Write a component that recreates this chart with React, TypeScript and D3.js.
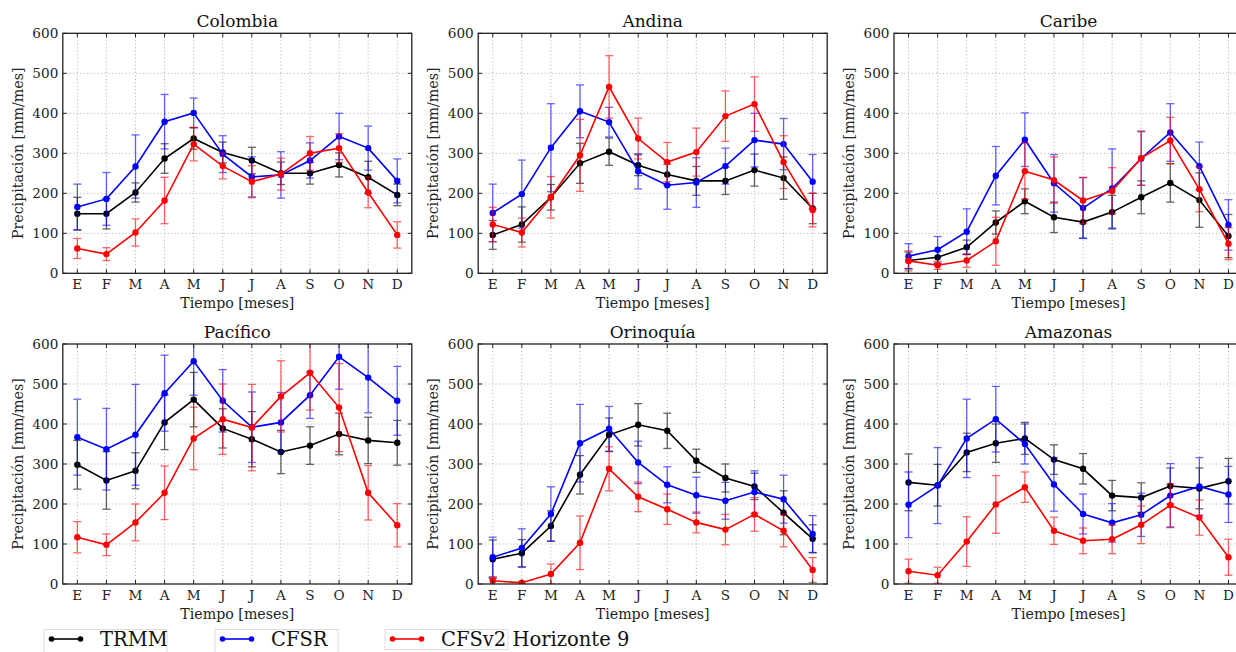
import React from "react";
import * as d3 from "d3";

const months = ["E", "F", "M", "A", "M", "J", "J", "A", "S", "O", "N", "D"];
const yTicks = [0, 100, 200, 300, 400, 500, 600];
const regions = ["Colombia", "Andina", "Caribe", "Pacífico", "Orinoquía", "Amazonas"];
const seriesNames = ["TRMM", "CFSR", "CFSv2 Horizonte 9"];
const seriesColors = ["#000000", "#0000ff", "#ff0000"];

// Colombia
const colombiaTRMM = [149, 149, 202, 287, 337, 302, 282, 250, 250, 271, 240, 196];
const colombiaTRMMErr = [41, 38, 24, 37, 27, 26, 33, 28, 27, 30, 40, 27];
const colombiaCFSR = [166, 186, 267, 379, 401, 298, 241, 246, 282, 342, 313, 231];
const colombiaCFSRErr = [57, 66, 79, 68, 37, 46, 50, 58, 44, 58, 55, 55];
const colombiaCFSv2 = [62, 48, 102, 182, 323, 268, 229, 248, 300, 313, 202, 96];
const colombiaCFSv2Err = [25, 16, 34, 58, 42, 32, 40, 40, 42, 36, 38, 33];

// Andina
const andinaTRMM = [96, 122, 190, 275, 304, 270, 247, 231, 231, 258, 238, 162];
const andinaTRMMErr = [36, 44, 32, 50, 34, 26, 26, 36, 34, 40, 53, 38];
const andinaCFSR = [151, 198, 314, 405, 378, 255, 220, 227, 268, 333, 323, 229];
const andinaCFSRErr = [72, 85, 110, 66, 37, 44, 60, 62, 45, 67, 64, 68];
const andinaCFSv2 = [122, 102, 190, 295, 466, 337, 278, 303, 393, 423, 278, 158];
const andinaCFSv2Err = [43, 36, 52, 90, 78, 51, 49, 60, 63, 68, 66, 42];

// Caribe
const caribeTRMM = [32, 40, 65, 127, 180, 140, 128, 153, 190, 226, 183, 93];
const caribeTRMMErr = [21, 16, 18, 29, 31, 38, 40, 42, 41, 48, 68, 54];
const caribeCFSR = [43, 59, 104, 244, 334, 225, 163, 212, 287, 352, 268, 121];
const caribeCFSRErr = [31, 33, 57, 73, 67, 72, 76, 99, 67, 72, 60, 63];
const caribeCFSv2 = [31, 20, 32, 80, 255, 233, 182, 206, 288, 332, 210, 74];
const caribeCFSv2Err = [25, 10, 17, 60, 70, 58, 58, 58, 68, 58, 56, 40];

// Pacífico
const pacificoTRMM = [298, 259, 283, 404, 461, 389, 362, 330, 346, 375, 359, 353];
const pacificoTRMMErr = [61, 72, 45, 68, 68, 49, 69, 54, 47, 52, 58, 56];
const pacificoCFSR = [367, 337, 373, 477, 557, 458, 392, 404, 472, 568, 516, 458];
const pacificoCFSRErr = [95, 102, 126, 95, 85, 78, 88, 75, 58, 81, 88, 86];
const pacificoCFSv2 = [117, 98, 154, 228, 364, 412, 391, 469, 528, 441, 228, 147];
const pacificoCFSv2Err = [39, 27, 46, 67, 78, 88, 108, 89, 93, 110, 68, 54];

// Orinoquía
const orinoquiaTRMM = [62, 77, 145, 273, 373, 398, 383, 308, 265, 244, 178, 113];
const orinoquiaTRMMErr = [48, 34, 38, 48, 42, 53, 44, 29, 35, 33, 55, 35];
const orinoquiaCFSR = [67, 90, 175, 352, 388, 304, 248, 222, 208, 230, 212, 125];
const orinoquiaCFSRErr = [50, 48, 68, 97, 56, 53, 45, 45, 46, 53, 60, 46];
const orinoquiaCFSv2 = [8, 3, 25, 103, 288, 218, 187, 154, 136, 174, 133, 35];
const orinoquiaCFSv2Err = [10, 3, 25, 67, 55, 37, 38, 26, 38, 42, 40, 31];

// Amazonas
const amazonasTRMM = [254, 247, 329, 352, 364, 311, 288, 221, 216, 245, 239, 257];
const amazonasTRMMErr = [71, 52, 48, 48, 40, 37, 38, 38, 37, 45, 51, 57];
const amazonasCFSR = [198, 246, 364, 412, 350, 249, 175, 153, 173, 221, 244, 224];
const amazonasCFSRErr = [82, 95, 98, 82, 50, 67, 50, 48, 54, 80, 72, 70];
const amazonasCFSv2 = [32, 22, 106, 199, 242, 133, 108, 112, 148, 197, 166, 67];
const amazonasCFSv2Err = [30, 20, 62, 72, 38, 34, 32, 36, 47, 54, 44, 45];

const panelValues = [
  [colombiaTRMM, colombiaCFSR, colombiaCFSv2],
  [andinaTRMM, andinaCFSR, andinaCFSv2],
  [caribeTRMM, caribeCFSR, caribeCFSv2],
  [pacificoTRMM, pacificoCFSR, pacificoCFSv2],
  [orinoquiaTRMM, orinoquiaCFSR, orinoquiaCFSv2],
  [amazonasTRMM, amazonasCFSR, amazonasCFSv2],
];
const panelErrors = [
  [colombiaTRMMErr, colombiaCFSRErr, colombiaCFSv2Err],
  [andinaTRMMErr, andinaCFSRErr, andinaCFSv2Err],
  [caribeTRMMErr, caribeCFSRErr, caribeCFSv2Err],
  [pacificoTRMMErr, pacificoCFSRErr, pacificoCFSv2Err],
  [orinoquiaTRMMErr, orinoquiaCFSRErr, orinoquiaCFSv2Err],
  [amazonasTRMMErr, amazonasCFSRErr, amazonasCFSv2Err],
];

const W = 1236;
const H = 652;
const FONT = "'DejaVu Serif', serif";
const colLefts = [62.8, 478.2, 894];
const rowTops = [33.3, 344];
const plotW = 349;
const plotH = 240;

function Panel({ idx }: { idx: number }) {
  const col = idx % 3;
  const row = Math.floor(idx / 3);
  const left = colLefts[col];
  const top = rowTops[row];
  const x = d3.scaleLinear().domain([-0.5, 11.5]).range([left, left + plotW]);
  const y = d3.scaleLinear().domain([0, 600]).range([top + plotH, top]);
  const clipId = `clip-${idx}`;
  const line = d3
    .line<number>()
    .x((_, i) => x(i))
    .y((v) => y(v));
  const vals = panelValues[idx];
  const errs = panelErrors[idx];
  const cx = left + plotW / 2;
  return (
    <g>
      <defs>
        <clipPath id={clipId}>
          <rect x={left} y={top} width={plotW} height={plotH} />
        </clipPath>
      </defs>
      <rect x={left} y={top} width={plotW} height={plotH} fill="#fff" />
      {/* grid */}
      <g stroke="#9a9a9a" strokeWidth={0.8} strokeDasharray="1,2.5">
        {yTicks.slice(1, -1).map((t) => (
          <line key={"gy" + t} x1={left} x2={left + plotW} y1={y(t)} y2={y(t)} />
        ))}
        {months.map((_, i) => (
          <line key={"gx" + i} x1={x(i)} x2={x(i)} y1={top} y2={top + plotH} />
        ))}
      </g>
      {/* series */}
      <g clipPath={`url(#${clipId})`}>
        {vals.map((s, si) => (
          <g key={"s" + si}>
            <g stroke={seriesColors[si]} strokeWidth={1.3} opacity={0.6}>
              {s.map((v, i) => {
                const e = errs[si][i];
                const xi = x(i);
                return (
                  <g key={i}>
                    <line x1={xi} x2={xi} y1={y(v - e)} y2={y(v + e)} />
                    <line x1={xi - 4} x2={xi + 4} y1={y(v - e)} y2={y(v - e)} />
                    <line x1={xi - 4} x2={xi + 4} y1={y(v + e)} y2={y(v + e)} />
                  </g>
                );
              })}
            </g>
            <path d={line(s) || ""} fill="none" stroke={seriesColors[si]} strokeWidth={1.6} />
            {s.map((v, i) => (
              <circle key={"p" + i} cx={x(i)} cy={y(v)} r={3.2} fill={seriesColors[si]} />
            ))}
          </g>
        ))}
      </g>
      {/* ticks */}
      <g stroke="#222" strokeWidth={1}>
        {yTicks.map((t) => (
          <g key={"ty" + t}>
            <line x1={left} x2={left + 4} y1={y(t)} y2={y(t)} />
            <line x1={left + plotW - 4} x2={left + plotW} y1={y(t)} y2={y(t)} />
          </g>
        ))}
        {months.map((_, i) => (
          <g key={"tx" + i}>
            <line x1={x(i)} x2={x(i)} y1={top + plotH} y2={top + plotH - 4} />
            <line x1={x(i)} x2={x(i)} y1={top} y2={top + 4} />
          </g>
        ))}
      </g>
      <rect x={left} y={top} width={plotW} height={plotH} fill="none" stroke="#222" strokeWidth={1.3} />
      {/* tick labels */}
      <g fontFamily={FONT} fontSize={13.6} fill="#222">
        {yTicks.map((t) => (
          <text key={"ly" + t} x={left - 4.5} y={y(t) + 4.8} textAnchor="end">
            {t}
          </text>
        ))}
        {months.map((m, i) => (
          <text key={"lx" + i} x={x(i)} y={top + plotH + 15.5} textAnchor="middle">
            {m}
          </text>
        ))}
      </g>
      <text x={cx} y={top - 6} textAnchor="middle" fontFamily={FONT} fontSize={17} fill="#111">
        {regions[idx]}
      </text>
      <text x={cx} y={top + plotH + 34.5} textAnchor="middle" fontFamily={FONT} fontSize={14.2} fill="#222">
        Tiempo [meses]
      </text>
      <text
        transform={`translate(${left - 40},${top + plotH / 2}) rotate(-90)`}
        textAnchor="middle"
        fontFamily={FONT}
        fontSize={14.2}
        fill="#222"
      >
        Precipitación [mm/mes]
      </text>
    </g>
  );
}

const legendBoxes = [44, 215, 385];

function Legend() {
  return (
    <g>
      {seriesNames.map((name, i) => {
        const bx = legendBoxes[i];
        const ly = 639;
        return (
          <g key={name}>
            <rect x={bx} y={629.5} width={123} height={i === 2 ? 20 : 40} fill="#fff" stroke="#dcdcdc" strokeWidth={1} />
            <line x1={bx + 7.5} x2={bx + 36.5} y1={ly} y2={ly} stroke={seriesColors[i]} strokeWidth={1.6} />
            <circle cx={bx + 7.5} cy={ly} r={2.8} fill={seriesColors[i]} />
            <circle cx={bx + 36.5} cy={ly} r={2.8} fill={seriesColors[i]} />
            <text x={bx + 56} y={ly + 7} fontFamily={FONT} fontSize={19.5} fill="#111">
              {name}
            </text>
          </g>
        );
      })}
    </g>
  );
}

export default function App() {
  return (
    <svg
      width={W}
      height={H}
      style={{ position: "absolute", left: 0, top: 0, background: "#fff" }}
    >
      <rect x={0} y={0} width={W} height={H} fill="#fff" />
      {regions.map((_, i) => (
        <Panel key={i} idx={i} />
      ))}
      <Legend />
    </svg>
  );
}
